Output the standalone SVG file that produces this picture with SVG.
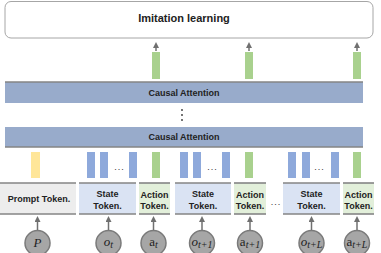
<svg xmlns="http://www.w3.org/2000/svg" width="381" height="253" viewBox="0 0 381 253">
<style>
.t{font-family:"Liberation Sans",Arial,sans-serif;font-weight:bold;fill:#222;text-anchor:middle}
.tok{font-size:9px}
.ca{font-size:9px}
.bar{fill:#98abcb}
.blue{fill:#8ea9db}
.green{fill:#a9d18e}
.yellow{fill:#ffe699}
.line{stroke:#858585;stroke-width:1.6}
.circ{fill:#a6a6a6;stroke:#7a7a7a;stroke-width:1.5}
.m{font-family:"Liberation Serif","Times New Roman",serif;font-size:13px;fill:#222;text-anchor:middle}
.dots{font-family:"Liberation Sans",Arial,sans-serif;font-size:9px;fill:#333;text-anchor:middle;letter-spacing:1px}
.arr{stroke:#707070;stroke-width:1.5;fill:none}
</style>
<defs>
<marker id="ah" markerWidth="6" markerHeight="6" refX="3" refY="3" orient="auto" markerUnits="userSpaceOnUse">
<path d="M0,0 L6,3 L0,6 z" fill="#707070"/>
</marker>
</defs>

<g id="imitation">
<rect x="5" y="1.5" width="368" height="36.5" rx="6" fill="#fff" stroke="#a6a6a6" stroke-width="1"/>
<text class="t" x="184" y="22" font-size="11">Imitation learning</text>
</g>

<g id="attn1">
<rect class="bar" x="5" y="82" width="358" height="21"/>
<line class="line" x1="5" y1="82" x2="363" y2="82"/>
<text class="t ca" x="184" y="96">Causal Attention</text>
</g>
<g id="vdots">
<circle cx="182" cy="110" r="0.9" fill="#333"/>
<circle cx="182" cy="115" r="0.9" fill="#333"/>
<circle cx="182" cy="120" r="0.9" fill="#333"/>
</g>
<g id="attn2">
<rect class="bar" x="5" y="127" width="358" height="20"/>
<line class="line" x1="5" y1="147" x2="363" y2="147"/>
<text class="t ca" x="184" y="140">Causal Attention</text>
</g>

<g id="outputs">
<rect class="green" x="152" y="52" width="8" height="27"/>
<rect class="green" x="245" y="52" width="8" height="27"/>
<rect class="green" x="353" y="52" width="8" height="27"/>
</g>

<g id="embeddings">
<rect class="yellow" x="31" y="152" width="9" height="26"/>
<rect class="blue" x="87" y="152" width="8" height="26"/>
<rect class="blue" x="100" y="152" width="8" height="26"/>
<text class="dots" x="119.5" y="170">...</text>
<rect class="blue" x="129" y="152" width="8" height="26"/>
<rect class="green" x="152" y="152" width="8" height="26"/>
<rect class="blue" x="180" y="152" width="8" height="26"/>
<rect class="blue" x="193" y="152" width="8" height="26"/>
<text class="dots" x="212.5" y="170">...</text>
<rect class="blue" x="222" y="152" width="8" height="26"/>
<rect class="green" x="245" y="152" width="8" height="26"/>
<rect class="blue" x="288" y="152" width="8" height="26"/>
<rect class="blue" x="302" y="152" width="8" height="26"/>
<text class="dots" x="319.5" y="170">...</text>
<rect class="blue" x="331" y="152" width="8" height="26"/>
<rect class="green" x="353" y="152" width="8" height="26"/>
</g>

<g id="prompt-token">
<rect x="0" y="183" width="76" height="31" fill="#ededed"/>
<line class="line" x1="0" y1="183" x2="76" y2="183"/>
<line class="line" x1="0" y1="214" x2="76" y2="214"/>
<text class="t tok" x="39" y="202">Prompt Token.</text>
</g>
<g id="state-token-1">
<rect x="79" y="183" width="57" height="31" fill="#dae3f3"/>
<line class="line" x1="79" y1="183" x2="136" y2="183"/>
<line class="line" x1="79" y1="214" x2="136" y2="214"/>
<text class="t tok" x="107.5" y="197">State</text>
<text class="t tok" x="107.5" y="209">Token.</text>
</g>
<g id="action-token-1">
<rect x="139" y="183" width="31" height="31" fill="#e2efda"/>
<line class="line" x1="139" y1="183" x2="170" y2="183"/>
<line class="line" x1="139" y1="214" x2="170" y2="214"/>
<text class="t tok" x="154.5" y="198">Action</text>
<text class="t tok" x="154.5" y="209">Token.</text>
</g>
<g id="state-token-2">
<rect x="175" y="183" width="56" height="31" fill="#dae3f3"/>
<line class="line" x1="175" y1="183" x2="231" y2="183"/>
<line class="line" x1="175" y1="214" x2="231" y2="214"/>
<text class="t tok" x="203" y="197">State</text>
<text class="t tok" x="203" y="209">Token.</text>
</g>
<g id="action-token-2">
<rect x="234" y="183" width="32" height="31" fill="#e2efda"/>
<line class="line" x1="234" y1="183" x2="266" y2="183"/>
<line class="line" x1="234" y1="214" x2="266" y2="214"/>
<text class="t tok" x="250" y="198">Action</text>
<text class="t tok" x="250" y="209">Token.</text>
</g>
<text class="dots" x="276" y="205">...</text>
<g id="state-token-3">
<rect x="283" y="183" width="57" height="31" fill="#dae3f3"/>
<line class="line" x1="283" y1="183" x2="340" y2="183"/>
<line class="line" x1="283" y1="214" x2="340" y2="214"/>
<text class="t tok" x="311.5" y="197">State</text>
<text class="t tok" x="311.5" y="209">Token.</text>
</g>
<g id="action-token-3">
<rect x="343" y="183" width="31" height="31" fill="#e2efda"/>
<line class="line" x1="343" y1="183" x2="374" y2="183"/>
<line class="line" x1="343" y1="214" x2="374" y2="214"/>
<text class="t tok" x="358.5" y="198">Action</text>
<text class="t tok" x="358.5" y="209">Token.</text>
</g>

<g id="in-p"><circle class="circ" cx="37.5" cy="243" r="12.5"/><text class="m" x="37.5" y="247" font-style="italic">P</text></g>
<g id="in-ot"><circle class="circ" cx="108.5" cy="243" r="12.5"/><text class="m" x="108.5" y="246"><tspan font-style="italic">o</tspan><tspan font-style="italic" font-size="10" dy="2">t</tspan></text></g>
<g id="in-at"><circle class="circ" cx="153.5" cy="243" r="12.5"/><text class="m" x="153.5" y="246">a<tspan font-style="italic" font-size="10" dy="2">t</tspan></text></g>
<g id="in-ot1"><circle class="circ" cx="202" cy="243" r="12.5"/><text class="m" x="202" y="246"><tspan font-style="italic">o</tspan><tspan font-style="italic" font-size="10" dy="2">t+1</tspan></text></g>
<g id="in-at1"><circle class="circ" cx="250" cy="243" r="12.5"/><text class="m" x="250" y="246">a<tspan font-style="italic" font-size="10" dy="2">t+1</tspan></text></g>
<g id="in-otL"><circle class="circ" cx="311.5" cy="243" r="12.5"/><text class="m" x="311.5" y="246"><tspan font-style="italic">o</tspan><tspan font-style="italic" font-size="10" dy="2">t+L</tspan></text></g>
<g id="in-atL"><circle class="circ" cx="357" cy="243" r="12.5"/><text class="m" x="357" y="246">a<tspan font-style="italic" font-size="10" dy="2">t+L</tspan></text></g>

<g id="connectors">
<line class="arr" x1="156" y1="51" x2="156" y2="45" marker-end="url(#ah)"/>
<line class="arr" x1="249" y1="51" x2="249" y2="45" marker-end="url(#ah)"/>
<line class="arr" x1="357" y1="51" x2="357" y2="45" marker-end="url(#ah)"/>
<line class="arr" x1="37.5" y1="230" x2="37.5" y2="219" marker-end="url(#ah)"/>
<line class="arr" x1="108.5" y1="230" x2="108.5" y2="219" marker-end="url(#ah)"/>
<line class="arr" x1="153.5" y1="230" x2="153.5" y2="219" marker-end="url(#ah)"/>
<line class="arr" x1="202" y1="230" x2="202" y2="219" marker-end="url(#ah)"/>
<line class="arr" x1="250" y1="230" x2="250" y2="219" marker-end="url(#ah)"/>
<line class="arr" x1="311.5" y1="230" x2="311.5" y2="219" marker-end="url(#ah)"/>
<line class="arr" x1="357" y1="230" x2="357" y2="219" marker-end="url(#ah)"/>
</g>
</svg>
